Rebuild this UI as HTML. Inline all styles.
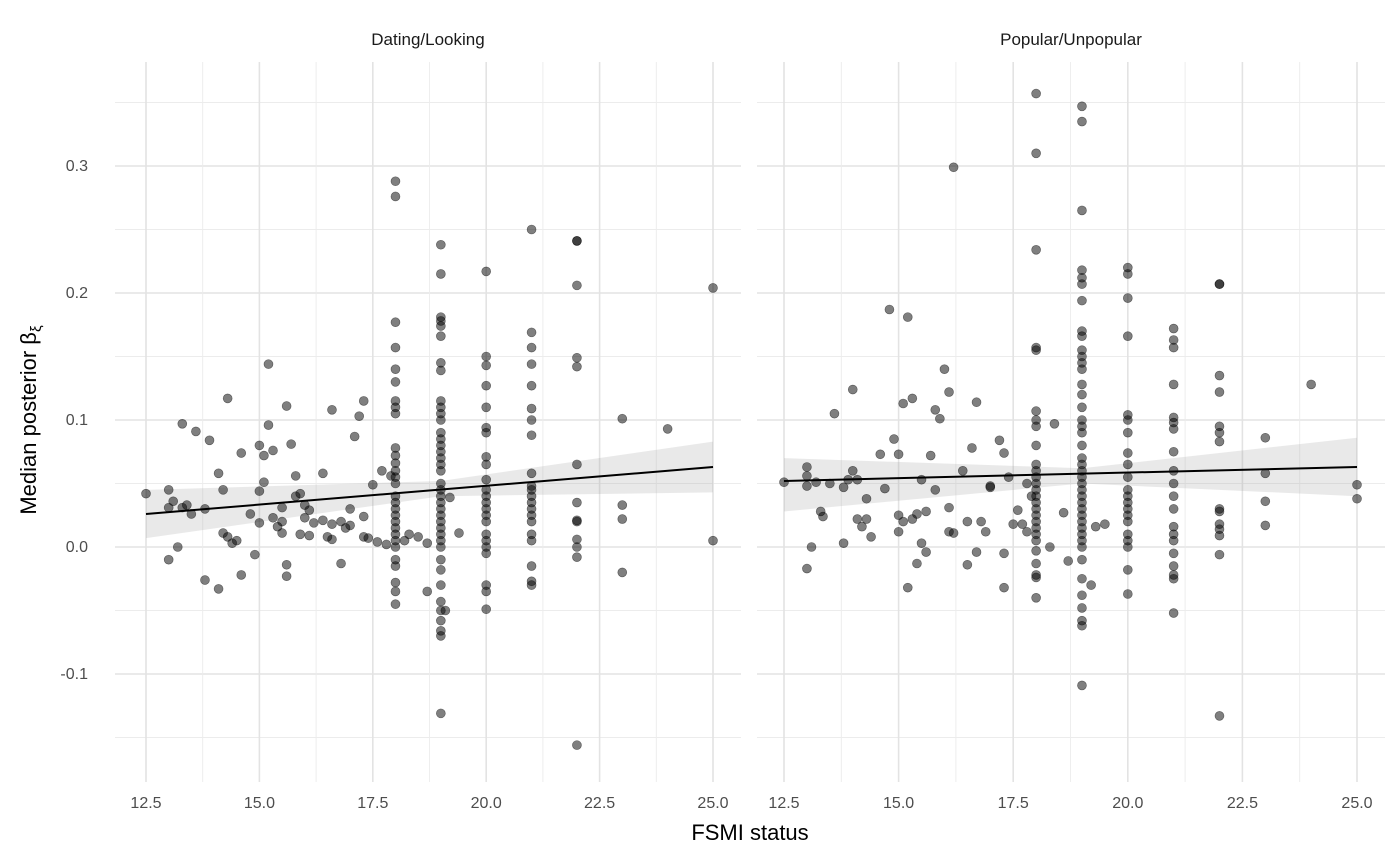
<!DOCTYPE html>
<html><head><meta charset="utf-8"><style>
body{margin:0;background:#fff;}
svg{display:block;font-family:"Liberation Sans",sans-serif;}
</style></head><body>
<svg id="s" width="1400" height="865" xmlns="http://www.w3.org/2000/svg">
<rect width="1400" height="865" fill="#fff"/>
<g id="grid"></g>
<g id="band"></g>
<g id="pts"></g>
<g id="lines"></g>
<g id="labels" font-size="16" fill="#4d4d4d"></g>
<text x="428" y="45" font-size="17" text-anchor="middle" fill="#1a1a1a">Dating/Looking</text>
<text x="1071" y="45" font-size="17" text-anchor="middle" fill="#1a1a1a">Popular/Unpopular</text>
<text x="750" y="840" font-size="22" text-anchor="middle" fill="#000">FSMI status</text>
<text transform="translate(36,420) rotate(-90)" font-size="22" text-anchor="middle" fill="#000">Median posterior β<tspan font-size="15" dy="5">ξ</tspan></text>
</svg>
<script>
var NS="http://www.w3.org/2000/svg";
function el(p,t,a){var e=document.createElementNS(NS,t);for(var k in a)e.setAttribute(k,a[k]);document.getElementById(p).appendChild(e);return e;}
var P=[{x0:146,x1:713,l:115,r:741},{x0:784,x1:1357,l:757,r:1385}];
function Y(v){return 547-v*1270;}
function X(p,v){return p.x0+(v-12.5)*(p.x1-p.x0)/12.5;}
P.forEach(function(p){
 for(var v=-0.15;v<=0.36;v+=0.05){var maj=Math.abs(Math.round(v*20))%2==0;
  el("grid","line",{x1:p.l,x2:p.r,y1:Y(v),y2:Y(v),stroke:maj?"#e3e3e3":"#ececec","stroke-width":maj?1.6:0.9});}
 for(var v=12.5;v<=25.6;v+=1.25){var maj=Math.abs(Math.round((v-12.5)/1.25))%2==0;
  el("grid","line",{x1:X(p,v),x2:X(p,v),y1:62,y2:782,stroke:maj?"#e3e3e3":"#ececec","stroke-width":maj?1.6:0.9});}
 ["12.5","15.0","17.5","20.0","22.5","25.0"].forEach(function(t){var e=el("labels","text",{x:X(p,+t),y:808,"text-anchor":"middle"});e.textContent=t;});
});
[["0.3",0.3],["0.2",0.2],["0.1",0.1],["0.0",0],["-0.1",-0.1]].forEach(function(a){var e=el("labels","text",{x:88,y:Y(a[1])+5,"text-anchor":"end"});e.textContent=a[0];});
function col(x,arr){return arr.map(function(y){return [x,y];});}
var L=[[12.5,0.042],[13,0.045],[13,0.031],[13,-0.01],[13.1,0.036],[13.2,0.0],[13.3,0.097],[13.3,0.031],[13.4,0.033],[13.5,0.026],[13.6,0.091],[13.8,-0.026],[13.8,0.030],[13.9,0.084],[14.1,0.058],[14.1,-0.033],[14.2,0.045],[14.2,0.011],[14.3,0.117],[14.3,0.008],[14.4,0.003],[14.5,0.005],[14.6,0.074],[14.6,-0.022],[14.8,0.026],[14.9,-0.006],[15,0.08],[15,0.044],[15,0.019],[15.1,0.072],[15.1,0.051],[15.2,0.096],[15.2,0.144],[15.3,0.076],[15.3,0.023],[15.4,0.016],[15.5,0.031],[15.5,0.011],[15.5,0.02],[15.6,0.111],[15.6,-0.014],[15.6,-0.023],[15.7,0.081],[15.8,0.056],[15.8,0.040],[15.9,0.042],[15.9,0.010],[16,0.033],[16,0.023],[16.1,0.029],[16.1,0.009],[16.2,0.019],[16.4,0.058],[16.4,0.021],[16.5,0.008],[16.6,0.018],[16.6,0.108],[16.6,0.006],[16.8,0.02],[16.8,-0.013],[16.9,0.015],[17,0.017],[17,0.03],[17.1,0.087],[17.2,0.103],[17.3,0.115],[17.3,0.024],[17.3,0.008],[17.4,0.007],[17.5,0.049],[17.6,0.004],[17.7,0.06],[17.8,0.002],[17.9,0.056],[18.2,0.005],[18.3,0.01],[18.5,0.008],[18.7,0.003],[18.7,-0.035],[19.1,-0.05],[19.2,0.039],[19.4,0.011],[23,0.101],[23,0.033],[23,0.022],[23,-0.02],[24,0.093],[25,0.204],[25,0.005]]
.concat(col(18,[0.288,0.276,0.177,0.157,0.140,0.130,0.115,0.110,0.105,0.078,0.072,0.066,0.060,0.055,0.050,0.040,0.035,0.030,0.025,0.02,0.015,0.01,0.005,0.0,-0.01,-0.015,-0.028,-0.035,-0.045]))
.concat(col(19,[0.238,0.215,0.181,0.178,0.174,0.166,0.145,0.139,0.115,0.11,0.105,0.1,0.09,0.085,0.08,0.075,0.07,0.065,0.06,0.05,0.045,0.04,0.035,0.03,0.025,0.02,0.015,0.01,0.005,0.0,-0.01,-0.018,-0.03,-0.043,-0.05,-0.058,-0.066,-0.07,-0.131]))
.concat(col(20,[0.217,0.150,0.143,0.127,0.110,0.094,0.090,0.071,0.065,0.053,0.045,0.04,0.035,0.03,0.025,0.02,0.01,0.005,0.0,-0.005,-0.03,-0.035,-0.049]))
.concat(col(21,[0.25,0.169,0.157,0.144,0.127,0.109,0.1,0.088,0.058,0.048,0.045,0.04,0.035,0.03,0.025,0.02,0.01,0.005,-0.015,-0.027,-0.03]))
.concat(col(22,[0.241,0.241,0.206,0.149,0.142,0.065,0.035,0.021,0.02,0.006,0.0,-0.008,-0.156]));
var R=[[12.5,0.051],[13,0.063],[13,0.056],[13,0.048],[13,-0.017],[13.1,0.0],[13.2,0.051],[13.3,0.028],[13.35,0.024],[13.5,0.05],[13.6,0.105],[13.8,0.047],[13.8,0.003],[13.9,0.053],[14,0.06],[14,0.124],[14.1,0.053],[14.1,0.022],[14.2,0.016],[14.3,0.038],[14.3,0.022],[14.4,0.008],[14.6,0.073],[14.7,0.046],[14.8,0.187],[14.9,0.085],[15,0.073],[15,0.025],[15,0.012],[15.1,0.113],[15.1,0.02],[15.2,0.181],[15.2,-0.032],[15.3,0.117],[15.3,0.022],[15.4,0.026],[15.4,-0.013],[15.5,0.003],[15.5,0.053],[15.6,0.028],[15.6,-0.004],[15.7,0.072],[15.8,0.108],[15.8,0.045],[15.9,0.101],[16,0.14],[16.1,0.122],[16.1,0.012],[16.1,0.031],[16.2,0.299],[16.2,0.011],[16.4,0.06],[16.5,0.02],[16.5,-0.014],[16.6,0.078],[16.7,0.114],[16.7,-0.004],[16.8,0.02],[16.9,0.012],[17,0.047],[17,0.048],[17.2,0.084],[17.3,0.074],[17.3,-0.005],[17.3,-0.032],[17.4,0.055],[17.5,0.018],[17.6,0.029],[17.7,0.018],[17.8,0.012],[17.8,0.05],[17.9,0.04],[18.3,0.0],[18.4,0.097],[18.6,0.027],[18.7,-0.011],[19.2,-0.03],[19.3,0.016],[19.5,0.018],[23,0.086],[23,0.058],[23,0.036],[23,0.017],[24,0.128],[25,0.049],[25,0.038]]
.concat(col(18,[0.357,0.31,0.234,0.157,0.155,0.107,0.1,0.095,0.08,0.065,0.06,0.055,0.05,0.045,0.04,0.035,0.03,0.025,0.02,0.015,0.01,0.005,-0.003,-0.013,-0.022,-0.024,-0.04]))
.concat(col(19,[0.347,0.335,0.265,0.218,0.212,0.207,0.194,0.17,0.166,0.155,0.15,0.145,0.14,0.128,0.12,0.11,0.1,0.095,0.09,0.08,0.07,0.065,0.06,0.055,0.05,0.045,0.04,0.035,0.03,0.025,0.02,0.015,0.01,0.005,0.0,-0.01,-0.025,-0.038,-0.048,-0.058,-0.062,-0.109]))
.concat(col(20,[0.22,0.215,0.196,0.166,0.104,0.1,0.09,0.074,0.065,0.055,0.045,0.04,0.035,0.03,0.025,0.02,0.01,0.005,0.0,-0.018,-0.037]))
.concat(col(21,[0.172,0.163,0.157,0.128,0.102,0.098,0.093,0.075,0.06,0.05,0.04,0.03,0.016,0.01,0.005,-0.005,-0.015,-0.022,-0.025,-0.052]))
.concat(col(22,[0.207,0.207,0.135,0.122,0.095,0.09,0.083,0.03,0.028,0.018,0.014,0.009,-0.006,-0.133]));
function band(p,lo0,hi0,lom,him,lo1,hi1,a,b){
 var up=[[12.5,hi0],[19,him],[25,hi1]],dn=[[25,lo1],[19,lom],[12.5,lo0]];
 var d="M"+up.concat(dn).map(function(q){return X(p,q[0])+","+Y(q[1]);}).join("L")+"Z";
 el("band","path",{d:d,fill:"#999","fill-opacity":0.22});
 el("lines","line",{x1:X(p,12.5),y1:Y(a),x2:X(p,25),y2:Y(b),stroke:"#000","stroke-width":2});
}
band(P[0],0.007,0.045,0.040,0.052,0.043,0.083,0.026,0.063);
band(P[1],0.028,0.070,0.050,0.062,0.040,0.086,0.052,0.063);
[[P[0],L],[P[1],R]].forEach(function(a){a[1].forEach(function(q){
 el("pts","circle",{cx:X(a[0],q[0]),cy:Y(q[1]),r:4.5,fill:"#000","fill-opacity":0.5,stroke:"#000","stroke-opacity":0.5,"stroke-width":0.6});});});
</script>
</body></html>
